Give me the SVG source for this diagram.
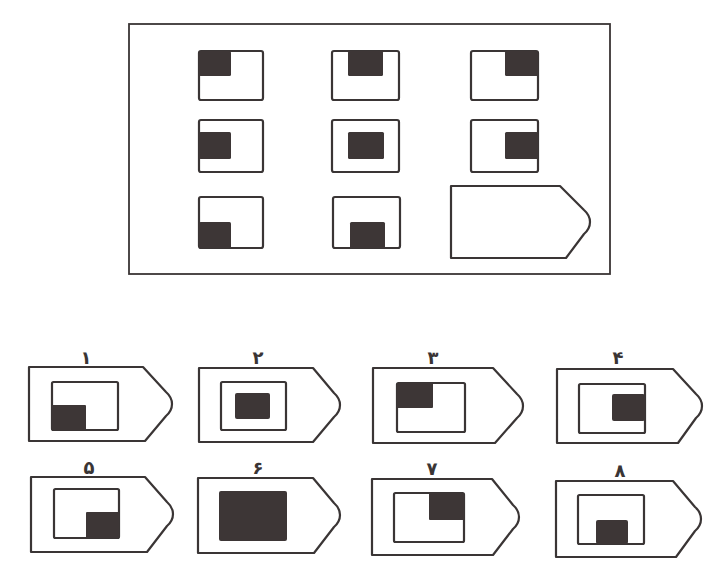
<svg xmlns="http://www.w3.org/2000/svg" width="720" height="578" viewBox="0 0 720 578">
<style>
.bg{fill:#ffffff}
.frame{fill:none;stroke:#3a3535;stroke-width:1.8}
.cell{fill:#ffffff;stroke:#3a3535;stroke-width:2.2}
.blk{fill:#3d3636}
.tag{fill:#ffffff;stroke:#3a3535;stroke-width:2.2;stroke-linejoin:round}
.lbl{font-family:"DejaVu Sans",sans-serif;font-size:18px;font-weight:bold;fill:#3a3535;text-anchor:middle}
</style>
<rect class="bg" x="0" y="0" width="720" height="578"/>
<g id="matrix">
<rect class="frame" x="129" y="24" width="481" height="250"/>
<g id="m11"><rect class="cell" x="199" y="51" width="64" height="49" rx="2"/><rect class="blk" x="199" y="51" width="32" height="25" rx="1.5"/></g>
<g id="m12"><rect class="cell" x="332" y="51" width="67" height="49" rx="2"/><rect class="blk" x="348" y="51" width="35" height="25" rx="1.5"/></g>
<g id="m13"><rect class="cell" x="471" y="51" width="67" height="49" rx="2"/><rect class="blk" x="505" y="51" width="33" height="25" rx="1.5"/></g>
<g id="m21"><rect class="cell" x="199" y="120" width="64" height="52" rx="2"/><rect class="blk" x="199" y="132" width="32" height="27" rx="1.5"/></g>
<g id="m22"><rect class="cell" x="332" y="120" width="67" height="52" rx="2"/><rect class="blk" x="348" y="132" width="36" height="27" rx="1.5"/></g>
<g id="m23"><rect class="cell" x="471" y="120" width="67" height="52" rx="2"/><rect class="blk" x="505" y="132" width="33" height="27" rx="1.5"/></g>
<g id="m31"><rect class="cell" x="199" y="197" width="64" height="51" rx="2"/><rect class="blk" x="199" y="222" width="32" height="26" rx="1.5"/></g>
<g id="m32"><rect class="cell" x="333" y="197" width="67" height="51" rx="2"/><rect class="blk" x="350" y="222" width="35" height="26" rx="1.5"/></g>
<g id="m33"><path class="tag" d="M451,186 L560,186 L584,210 C592,217 592,227 584,234 L566,258 L451,258 Z"/></g>
</g>
<g id="opt1">
<text class="lbl" x="86" y="364">۱</text>
<path class="tag" d="M29,367 L143,367 L166,392 C174,399 174,409 166,416 L145,441 L29,441 Z"/>
<rect class="cell" x="52" y="382" width="66" height="48" rx="1.5"/>
<rect class="blk" x="52" y="405" width="34" height="25" rx="1"/>
</g>
<g id="opt2">
<text class="lbl" x="258" y="364">۲</text>
<path class="tag" d="M199,368 L313,368 L334,393 C342,400 342,410 334,417 L313,442 L199,442 Z"/>
<rect class="cell" x="221" y="382" width="65" height="48" rx="1.5"/>
<rect class="blk" x="235" y="393" width="35" height="26" rx="2"/>
</g>
<g id="opt3">
<text class="lbl" x="433" y="364">۳</text>
<path class="tag" d="M373,368 L493,368 L517,394 C525,401 525,411 517,418 L495,443 L373,443 Z"/>
<rect class="cell" x="397" y="383" width="68" height="49" rx="1.5"/>
<rect class="blk" x="397" y="383" width="36" height="25" rx="1"/>
</g>
<g id="opt4">
<text class="lbl" x="618" y="364">۴</text>
<path class="tag" d="M557,369 L673,369 L696,394 C704,401 704,411 696,418 L678,443 L557,443 Z"/>
<rect class="cell" x="579" y="384" width="66" height="49" rx="1.5"/>
<rect class="blk" x="612" y="394" width="33" height="27" rx="2"/>
</g>
<g id="opt5">
<text class="lbl" x="89" y="474">۵</text>
<path class="tag" d="M31,477 L145,477 L167,502 C175,509 175,519 167,526 L147,552 L31,552 Z"/>
<rect class="cell" x="54" y="489" width="65" height="49" rx="1.5"/>
<rect class="blk" x="86" y="512" width="33" height="26" rx="1"/>
</g>
<g id="opt6">
<text class="lbl" x="258" y="474">۶</text>
<path class="tag" d="M198,478 L313,478 L334,503 C342,510 342,520 334,527 L314,553 L198,553 Z"/>
<rect class="blk" x="219" y="491" width="68" height="50" rx="2"/>
</g>
<g id="opt7">
<text class="lbl" x="432" y="475">۷</text>
<path class="tag" d="M372,479 L492,479 L513,505 C521,512 521,522 513,529 L493,555 L372,555 Z"/>
<rect class="cell" x="394" y="493" width="70" height="49" rx="1.5"/>
<rect class="blk" x="429" y="493" width="35" height="27" rx="1"/>
</g>
<g id="opt8">
<text class="lbl" x="620" y="477">۸</text>
<path class="tag" d="M556,481 L673,481 L695,507 C703,514 703,524 695,531 L676,557 L556,557 Z"/>
<rect class="cell" x="578" y="495" width="66" height="49" rx="1.5"/>
<rect class="blk" x="596" y="520" width="32" height="24" rx="2"/>
</g>
<g id="connectors"></g>
</svg>
